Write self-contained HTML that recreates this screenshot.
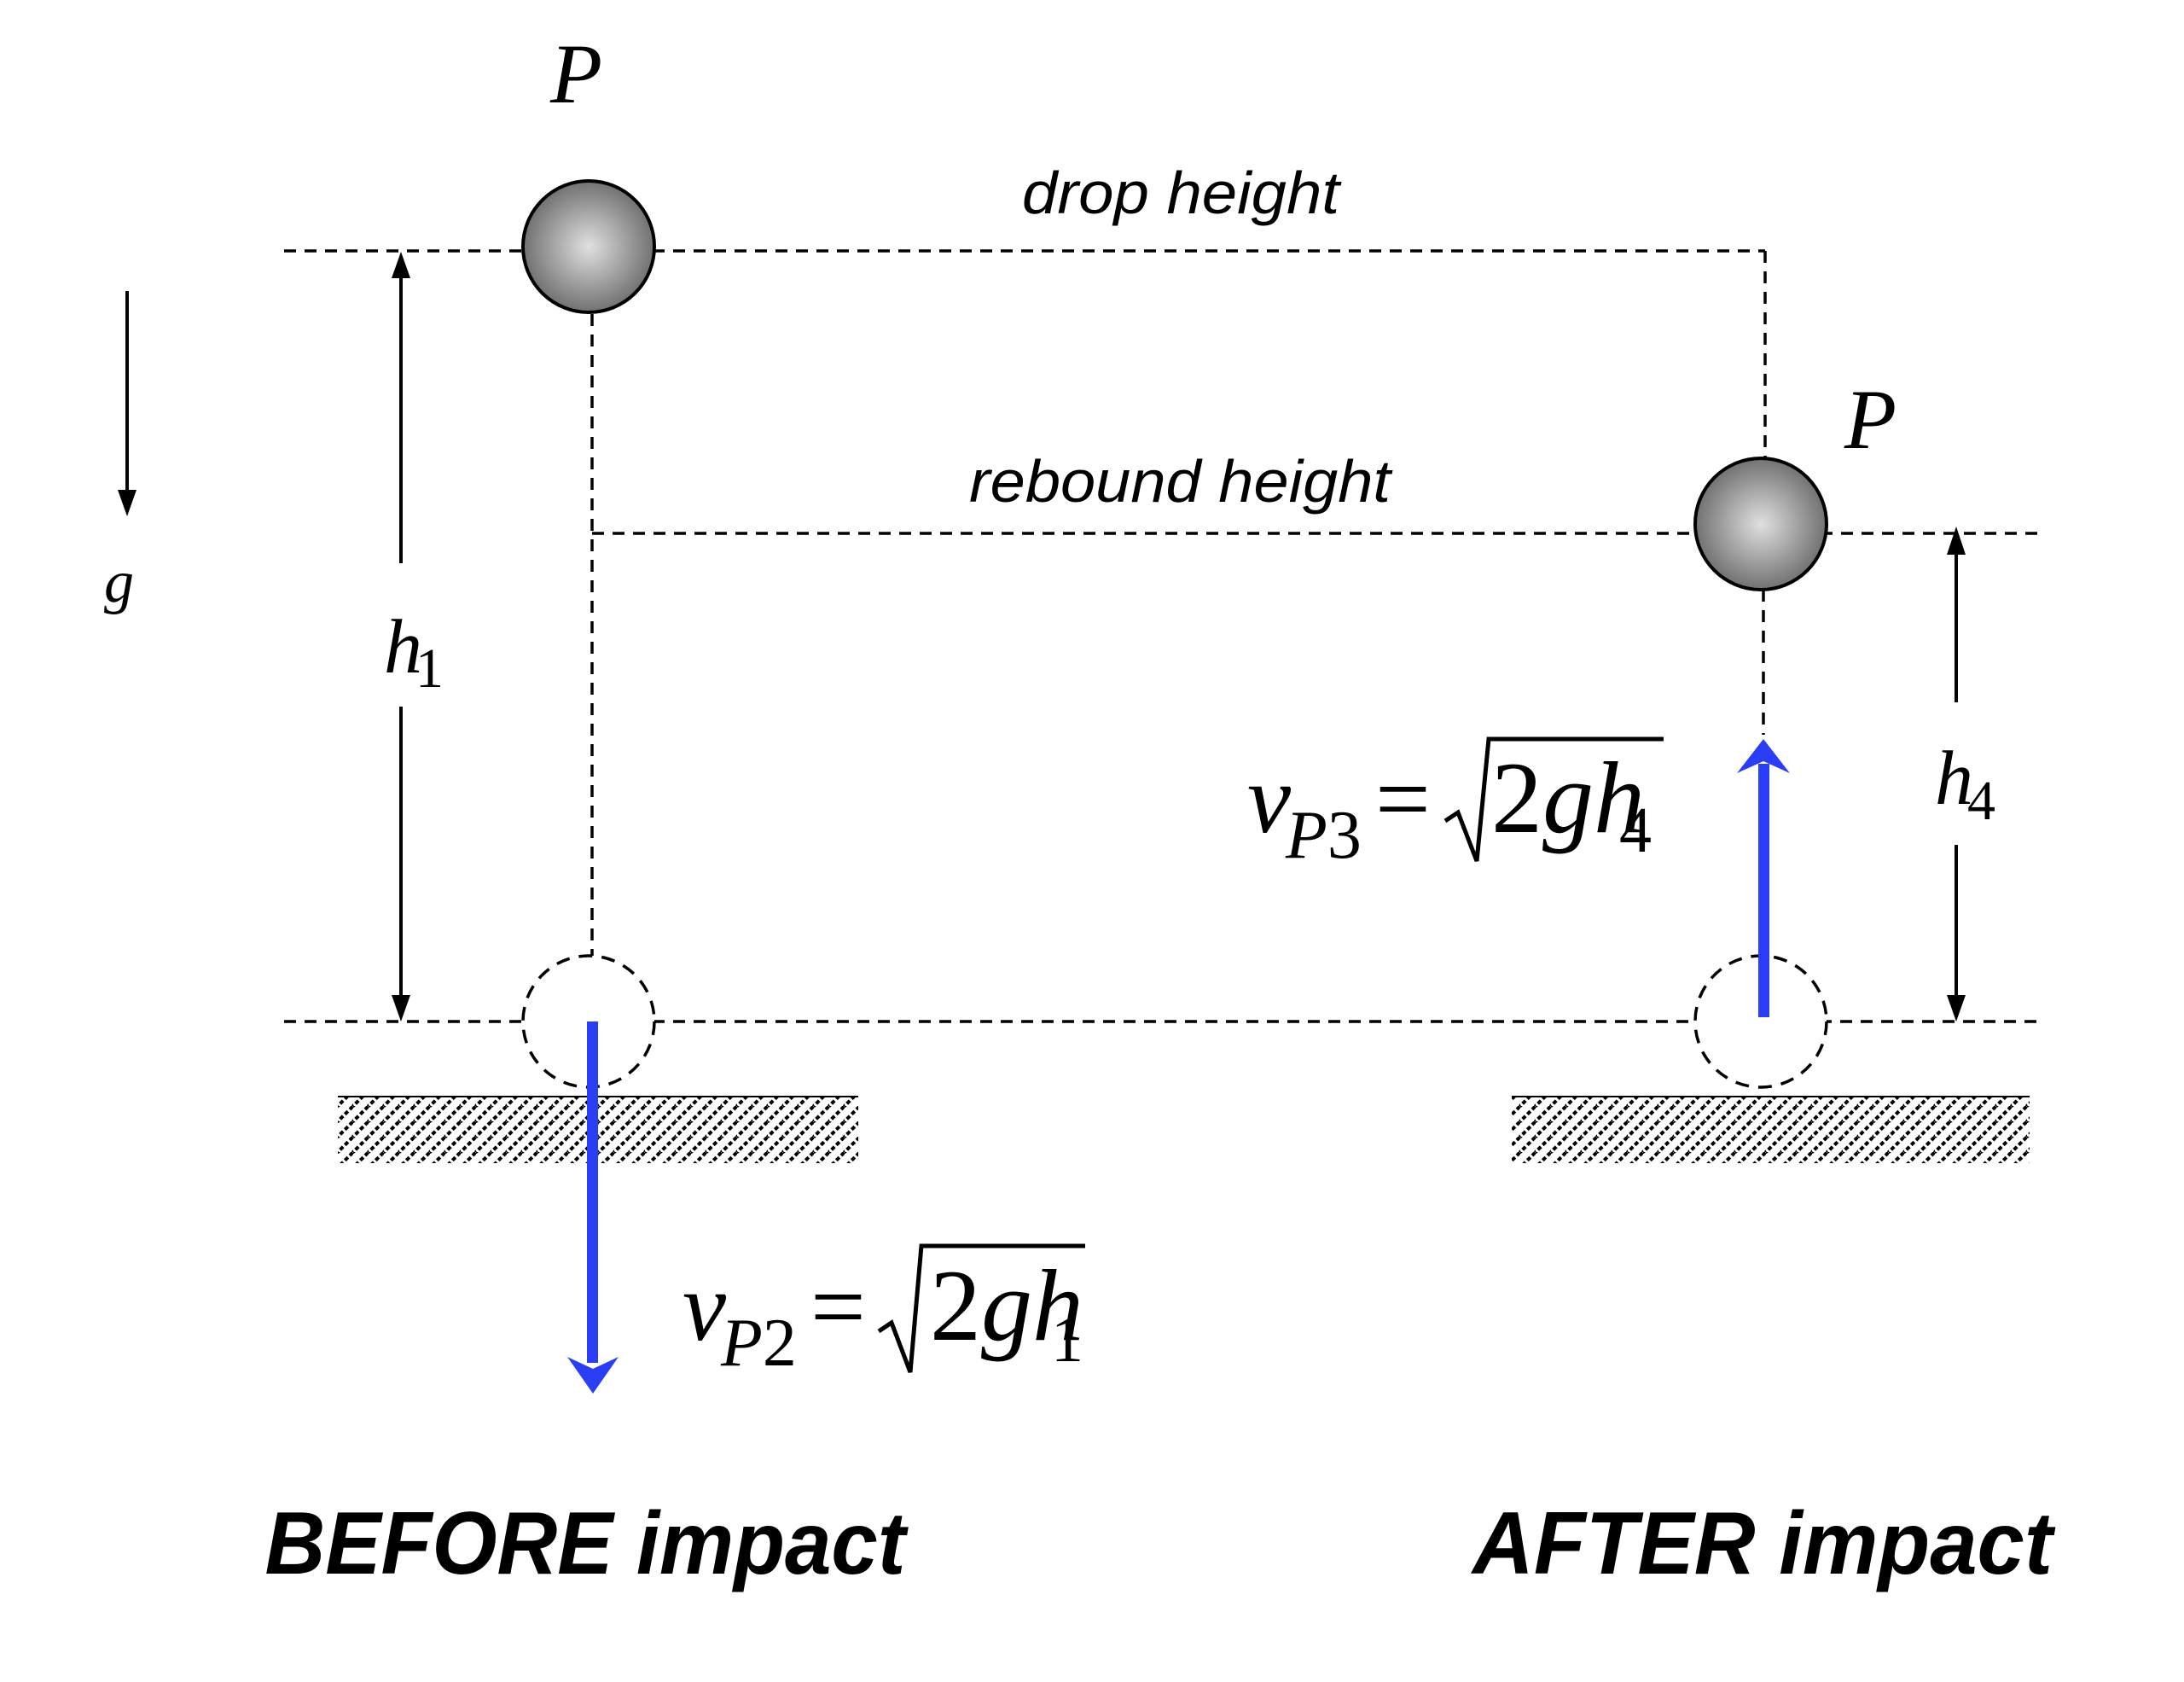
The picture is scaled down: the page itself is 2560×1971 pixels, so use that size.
<!DOCTYPE html>
<html><head><meta charset="utf-8"><style>
html,body{margin:0;padding:0;background:#fff;}
svg{display:block;}
.ser{font-family:"Liberation Serif",serif;font-style:italic;}
.sans{font-family:"Liberation Sans",sans-serif;font-style:italic;}
</style></head><body>
<svg width="2560" height="1971" viewBox="0 0 2560 1971" xmlns="http://www.w3.org/2000/svg">
<defs>
<radialGradient id="ball" cx="0.5" cy="0.5" r="0.55">
<stop offset="0" stop-color="#e0e0e0"/><stop offset="1" stop-color="#666"/>
</radialGradient>
<pattern id="hatch" width="18" height="18" patternUnits="userSpaceOnUse">
<path d="M-3,21 L21,-3 M-12,12 L12,-12 M6,30 L30,6" stroke="#000" stroke-width="4" stroke-dasharray="5 3"/>
</pattern>
</defs>
<g stroke="#000" stroke-width="3.5" stroke-dasharray="14 10" fill="none">
<line x1="333" y1="294" x2="2069" y2="294"/>
<line x1="2069" y1="294" x2="2069" y2="537"/>
<line x1="694" y1="368" x2="694" y2="1120"/>
<line x1="694" y1="625" x2="2393" y2="625"/>
<line x1="2067" y1="691" x2="2067" y2="861"/>
<line x1="333" y1="1197" x2="2393" y2="1197"/>
</g>
<g stroke="#000" stroke-width="3.5" stroke-dasharray="16 11" fill="#fff">
<circle cx="690" cy="1197" r="77"/>
<circle cx="2064" cy="1197" r="77"/>
</g>
<circle cx="690" cy="289" r="77" fill="url(#ball)" stroke="#000" stroke-width="4"/>
<circle cx="2064" cy="614" r="77" fill="url(#ball)" stroke="#000" stroke-width="4"/>
<rect x="396" y="1285" width="610" height="78" fill="url(#hatch)"/>
<line x1="396" y1="1285" x2="1006" y2="1285" stroke="#000" stroke-width="2"/>
<rect x="1772" y="1285" width="607" height="78" fill="url(#hatch)"/>
<line x1="1772" y1="1285" x2="2379" y2="1285" stroke="#000" stroke-width="2"/>
<g stroke="#000" stroke-width="4" fill="none">
<line x1="470" y1="320" x2="470" y2="660"/>
<line x1="470" y1="828" x2="470" y2="1170"/>
<line x1="2293" y1="645" x2="2293" y2="823"/>
<line x1="2293" y1="990" x2="2293" y2="1170"/>
<line x1="149" y1="341" x2="149" y2="580"/>
</g>
<g fill="#000">
<polygon points="459,326 470,295 481,326"/>
<polygon points="459,1166 470,1197 481,1166"/>
<polygon points="2282,650 2293,617 2304,650"/>
<polygon points="2282,1166 2293,1197 2304,1166"/>
<polygon points="138,574 149,605 160,574"/>
</g>
<g fill="#2a3ef5">
<rect x="688" y="1197" width="13" height="400"/>
<polygon points="665,1590 695,1633 725,1590 695,1604"/>
<rect x="2061" y="895" width="13" height="297"/>
<polygon points="2036,906 2067,866 2098,906 2067,892"/>
</g>
<g class="ser" fill="#000">
<text x="645" y="120" font-size="100">P</text>
<text x="2162" y="525" font-size="100">P</text>
<text x="122" y="705" font-size="70">g</text>
<text x="450" y="788" font-size="90">h</text><text x="487" y="805" font-size="66" font-style="normal">1</text>
<text x="2268" y="942" font-size="90">h</text><text x="2306" y="960" font-size="66" font-style="normal">4</text>
<text x="800" y="1570" font-size="115">v</text>
<text x="845" y="1600" font-size="80">P<tspan font-style="normal">2</tspan></text>
<text x="950" y="1570" font-size="115" font-style="normal">=</text>
<text x="1090" y="1570" font-size="120" font-style="normal">2</text>
<text x="1150" y="1570" font-size="120">gh</text>
<text x="1232" y="1595" font-size="76" font-style="normal">1</text>
<text x="1462" y="975" font-size="115">v</text>
<text x="1507" y="1005" font-size="80">P<tspan font-style="normal">3</tspan></text>
<text x="1612" y="975" font-size="115" font-style="normal">=</text>
<text x="1748" y="975" font-size="120" font-style="normal">2</text>
<text x="1808" y="975" font-size="120">gh</text>
<text x="1898" y="998" font-size="76" font-style="normal">4</text>
</g>
<g fill="none" stroke="#000" stroke-width="5">
<polyline points="1030,1560 1045,1550 1067,1608 1080,1460 1272,1460"/>
<polyline points="1694,962 1709,952 1731,1009 1745,866 1950,866"/>
</g>
<g class="sans" fill="#000" text-anchor="middle">
<text x="1384" y="250" font-size="70" textLength="372" lengthAdjust="spacingAndGlyphs">drop height</text>
<text x="1383" y="588" font-size="70" textLength="494" lengthAdjust="spacingAndGlyphs">rebound height</text>
<text x="686" y="1844" font-size="104" font-weight="bold" textLength="751" lengthAdjust="spacingAndGlyphs">BEFORE impact</text>
<text x="2066" y="1844" font-size="104" font-weight="bold" textLength="680" lengthAdjust="spacingAndGlyphs">AFTER impact</text>
</g>
</svg>
</body></html>
